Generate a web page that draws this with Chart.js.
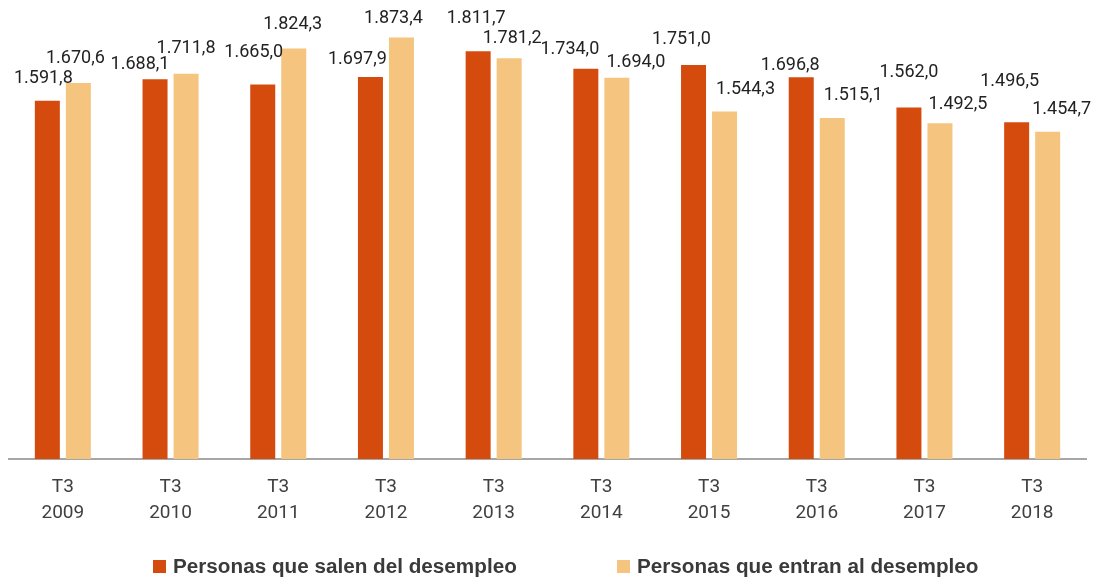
<!DOCTYPE html>
<html>
<head>
<meta charset="utf-8">
<script src="https://cdn.jsdelivr.net/npm/chart.js@4.4.1/dist/chart.umd.min.js"></script>
<style>
  html, body { margin: 0; padding: 0; background: #fff; }
  .wrap { position: relative; width: 1095px; height: 580px; }
  canvas { position: absolute; left: 0; top: 0; }
  .legend { position: absolute; top: 553px; left: 0; width: 1095px; height: 26px; }
  .legend .item { position: absolute; top: 0; display: flex; align-items: center; height: 26px;
    font-family: "Liberation Sans", Arial, sans-serif; font-weight: bold; font-size: 20.7px; color: #3a3a3a; white-space: nowrap; }
  .legend .box { width: 13px; height: 13px; margin-right: 7px; }
</style>
</head>
<body>
<div class="wrap">
  <canvas id="chart" width="1095" height="580"></canvas>
  <div class="legend" id="legend"></div>
</div>
<script>
// ── datos ──
const periodos = ['T3', 'T3', 'T3', 'T3', 'T3', 'T3', 'T3', 'T3', 'T3', 'T3'];
const anios    = ['2009', '2010', '2011', '2012', '2013', '2014', '2015', '2016', '2017', '2018'];
const salen    = [1591.8, 1688.1, 1665.0, 1697.9, 1811.7, 1734.0, 1751.0, 1696.8, 1562.0, 1496.5];
const entran   = [1670.6, 1711.8, 1824.3, 1873.4, 1781.2, 1694.0, 1544.3, 1515.1, 1492.5, 1454.7];
const nombres  = ['Personas que salen del desempleo', 'Personas que entran al desempleo'];

const colores = ['#D54B0E', '#F5C47F'];

// desplazamiento de las etiquetas respecto a la parte superior de cada barra [dx, dy]
const offsetsSalen  = [[-4,-22], [-15,-15], [-9,-32], [-13,-17], [-2,-33], [-16,-19], [-12,-26], [-11,-12], [0,-35], [-7,-41]];
const offsetsEntran = [[-3,-25], [0,-25], [-1,-24], [-8,-19], [3,-20], [19,-15], [21,-22], [21,-23], [18,-19], [14,-22]];

// 1591.8 -> "1.591,8"
function fmtEs(v) {
  const [ent, dec] = v.toFixed(1).split('.');
  return ent.replace(/\B(?=(\d{3})+(?!\d))/g, '.') + ',' + dec;
}

const valueLabels = {
  id: 'valueLabels',
  afterDatasetsDraw(chart) {
    const ctx = chart.ctx;
    const offs = [offsetsSalen, offsetsEntran];
    ctx.save();
    ctx.font = '18px Roboto';
    ctx.fillStyle = '#222222';
    ctx.textAlign = 'center';
    ctx.textBaseline = 'middle';
    chart.data.datasets.forEach((ds, di) => {
      chart.getDatasetMeta(di).data.forEach((bar, i) => {
        const [dx, dy] = offs[di][i];
        ctx.fillText(fmtEs(ds.data[i]), bar.x + dx, bar.y + dy);
      });
    });
    ctx.restore();
  }
};

const chart = new Chart(document.getElementById('chart'), {
  type: 'bar',
  data: {
    labels: anios.map((a, i) => [periodos[i], a]),
    datasets: [
      { label: nombres[0], data: salen,  backgroundColor: colores[0], categoryPercentage: 0.576, barPercentage: 0.806 },
      { label: nombres[1], data: entran, backgroundColor: colores[1], categoryPercentage: 0.576, barPercentage: 0.806 },
    ]
  },
  options: {
    responsive: false,
    animation: false,
    layout: { padding: { top: 9, left: 9, right: 9, bottom: 0 } },
    plugins: {
      legend: { display: false },
      tooltip: { enabled: false }
    },
    scales: {
      y: { display: false, min: 0, max: 2000 },
      x: {
        grid: { display: false, drawTicks: false, tickLength: 0 },
        border: { display: true, color: '#A6A6A6', width: 2 },
        ticks: { color: '#404040', padding: 15, font: { family: 'Roboto', size: 19, lineHeight: 1.37 }, maxRotation: 0 },
        afterFit: s => { s.height = 121; }
      }
    }
  },
  plugins: [valueLabels]
});

// leyenda
const legend = document.getElementById('legend');
const lefts = [153, 617];
nombres.forEach((n, i) => {
  const it = document.createElement('div');
  it.className = 'item';
  it.style.left = lefts[i] + 'px';
  it.innerHTML = `<span class="box" style="background:${colores[i]}"></span><span>${n}</span>`;
  legend.appendChild(it);
});
</script>
</body>
</html>
